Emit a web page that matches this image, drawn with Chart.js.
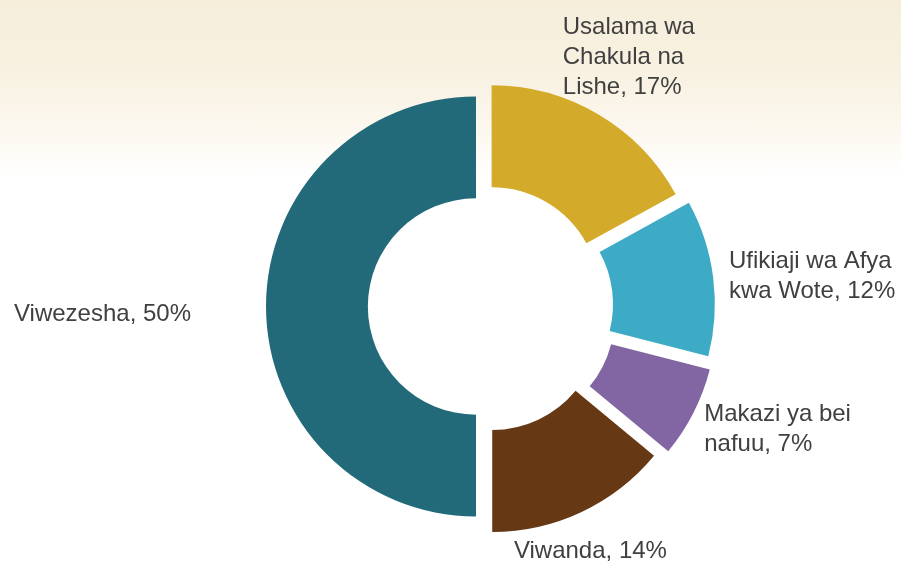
<!DOCTYPE html>
<html>
<head>
<meta charset="utf-8">
<script src="https://cdn.jsdelivr.net/npm/chart.js@4/dist/chart.umd.min.js"></script>
<style>
  html, body {
    margin: 0;
    padding: 0;
    width: 901px;
    height: 564px;
    overflow: hidden;
    background: linear-gradient(to bottom, #f6eedb 0px, #f8f1e1 70px, #fcf8ef 130px, #ffffff 175px, #ffffff 100%);
  }
  #wrap { position: relative; width: 901px; height: 564px; }
</style>
</head>
<body>
<div id="wrap"><canvas id="pieChart" width="901" height="564"></canvas></div>
<script>
// Chart data
const categories = [
  "Usalama wa Chakula na Lishe",
  "Ufikiaji wa Afya kwa Wote",
  "Makazi ya bei nafuu",
  "Viwanda",
  "Viwezesha"
];
const shares = [17, 12, 7, 14, 50];
const labelLines = [
  ["Usalama wa", "Chakula na", "Lishe, 17%"],
  ["Ufikiaji wa Afya", "kwa Wote, 12%"],
  ["Makazi ya bei", "nafuu, 7%"],
  ["Viwanda, 14%"],
  ["Viwezesha, 50%"]
];
const sliceColors = ["#d4aa2a", "#3eabc6", "#8166a3", "#673814", "#226a7a"];

// how far each slice is pulled out from the centre (px)
const explode = [13, 20, 24, 17, 9];

// label placement relative to each slice's mid angle (align, extra dx/dy)
const labelPlacement = [
  { align: "left", dx: -51, dy: -33 },
  { align: "left", dx: -14, dy: 1 },
  { align: "left", dx: -16, dy: 1 },
  { align: "center", dx: -4, dy: 10 },
  { align: "right", dx: -45, dy: 6 }
];

// Pull the slices apart after chart layout
const explodeSlices = {
  id: "explodeSlices",
  afterUpdate(chart) {
    const meta = chart.getDatasetMeta(0);
    meta.data.forEach((arc, i) => {
      const mid = (arc.startAngle + arc.endAngle) / 2;
      arc.x += Math.cos(mid) * explode[i];
      arc.y += Math.sin(mid) * explode[i];
    });
  }
};

// Plugin that writes the outside labels
const outsideLabels = {
  id: "outsideLabels",
  afterDatasetsDraw(chart) {
    const { ctx } = chart;
    const meta = chart.getDatasetMeta(0);
    ctx.save();
    ctx.font = "24px 'Liberation Sans'";
    ctx.fillStyle = "#404040";
    ctx.textBaseline = "alphabetic";
    const lineH = 30;
    const capH = 17;
    meta.data.forEach((arc, i) => {
      const mid = (arc.startAngle + arc.endAngle) / 2;
      const dist = arc.outerRadius + 30;
      const p = labelPlacement[i];
      const x = arc.x + Math.cos(mid) * dist + p.dx;
      const y = arc.y + Math.sin(mid) * dist + p.dy;
      const lines = labelLines[i];
      ctx.textAlign = p.align;
      const first = y - ((lines.length - 1) * lineH) / 2 + capH / 2;
      lines.forEach((line, j) => {
        ctx.fillText(line, x, first + j * lineH);
      });
    });
    ctx.restore();
  }
};

const ctx = document.getElementById("pieChart").getContext("2d");
const pieChart = new Chart(ctx, {
  type: "doughnut",
  data: {
    labels: categories,
    datasets: [
      {
        data: shares,
        backgroundColor: sliceColors,
        borderWidth: 0
      }
    ]
  },
  options: {
    responsive: false,
    animation: false,
    events: [],
    radius: 210,
    cutout: "51.5%",
    layout: { padding: { left: 69, right: 0, top: 49, bottom: 0 } },
    plugins: {
      legend: { display: false },
      tooltip: { enabled: false }
    }
  },
  plugins: [explodeSlices, outsideLabels]
});
</script>
</body>
</html>
